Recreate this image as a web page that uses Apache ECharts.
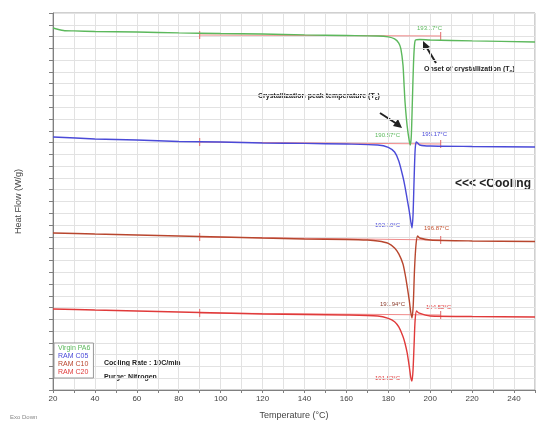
<!DOCTYPE html>
<html><head><meta charset="utf-8">
<script src="https://cdn.jsdelivr.net/npm/echarts@6/dist/echarts.min.js"></script>
<style>html,body{margin:0;padding:0;background:#fff;}#c{width:538px;height:429px;}</style>
</head><body><div id="c"></div>
<script>
// Temperature (°C) / heat flow (arbitrary offset units, exo down)
const seriesNames = ['Virgin PA6', 'RAM C05', 'RAM C10', 'RAM C20'];
const seriesColors = ['#5cb85c', '#4a4ad8', '#b8462e', '#e03a3a'];

const virginT = [20,25,30,40,60,80,100,120,140,160,175,180,183,185,186,187,187.5,188,189,190,190.5,191,191.5,192,192.5,193,195,200,220,250];
const virginV = [30.73,30.52,30.48,30.43,30.39,30.31,30.26,30.22,30.14,30.09,30.05,29.97,29.80,29.45,28.95,27.60,26.00,24.40,22.40,21.15,20.80,21.65,24.62,27.59,29.29,29.71,29.75,29.71,29.63,29.54];

const c05T = [20,40,60,80,100,120,140,160,175,180,183,185,187,188,189,190,190.7,191.3,191.8,192.3,192.8,193.3,194,195,200,220,250];
const c05V = [21.48,21.31,21.22,21.09,21.05,20.97,20.93,20.88,20.80,20.60,20.20,19.44,18.08,17.23,16.21,15.19,14.34,13.75,14.86,17.83,20.37,21.05,20.97,20.80,20.71,20.67,20.63];

const c10T = [20,40,60,80,100,120,140,160,170,175,180,183,185,187,188,189,190,190.7,191.3,191.9,192.5,193.2,194,195,200,220,250];
const c10V = [13.33,13.24,13.16,13.07,12.99,12.90,12.82,12.78,12.73,12.65,12.45,12.05,11.55,10.70,9.85,8.80,7.60,6.62,6.11,7.22,10.19,12.31,13.07,12.90,12.73,12.65,12.61];

const c20T = [20,40,60,80,100,120,140,160,175,180,183,185,187,188,189,190,190.7,191.3,191.8,192.3,192.8,193.5,194.5,200,220,250];
const c20V = [6.88,6.79,6.71,6.62,6.54,6.45,6.41,6.37,6.28,6.08,5.80,5.35,4.55,3.95,3.15,2.00,1.10,0.76,1.70,3.82,5.94,6.71,6.54,6.28,6.24,6.20];

// integration baselines (start/end temperature and level)
const baseT = [90, 205];
const baseV = [[30.13, 30.05], [21.05, 20.88], [12.99, 12.73], [6.54, 6.37]];

// peak / onset temperature labels
const peakLabels = ['190.57°C', '192.10°C', '191.94°C', '191.52°C'];
const onsetLabels = ['193.17°C', '195.17°C', '196.87°C', '194.52°C'];

const xTicks = [20,40,60,80,100,120,140,160,180,200,220,240];

const zip = (a, b) => a.map((t, i) => [t, b[i]]);
const curves = [zip(virginT, virginV), zip(c05T, c05V), zip(c10T, c10V), zip(c20T, c20V)];

const chart = echarts.init(document.getElementById('c'), null, {renderer: 'canvas'});

const series = [];
curves.forEach((d, i) => {
  series.push({
    name: seriesNames[i], type: 'line', data: d, showSymbol: false, smooth: 0.25,
    lineStyle: {color: seriesColors[i], width: 1.4}, itemStyle: {color: seriesColors[i]}, z: 3
  });
});
baseV.forEach((bv, i) => {
  series.push({
    name: 'base' + i, type: 'line', data: zip(baseT, bv), symbol: 'rect', symbolSize: [1, 8], showSymbol: true,
    lineStyle: {color: '#f08a8a', width: 1}, itemStyle: {color: '#e06a6a'}, z: 2, silent: true
  });
});

const fs = 'Liberation Sans, Arial, sans-serif';
const rich = {a: {font: 'bold 7px ' + fs, fill: '#222', color: '#222'}, s: {font: 'bold 5px ' + fs, color: '#222', verticalAlign: 'bottom', padding: [4, 0, 0, 0]}};
chart.setOption({
  animation: false,
  backgroundColor: '#ffffff',
  grid: {left: 53, right: 1, top: 13, bottom: 39, show: true, borderColor: '#a0a0a0', borderWidth: 1},
  xAxis: {
    type: 'value', min: 20, max: 250, interval: 10,
    axisLine: {show: true, lineStyle: {color: '#808080'}},
    axisTick: {show: true, length: 3, lineStyle: {color: '#808080'}},
    axisLabel: {color: '#444', fontSize: 8, fontFamily: fs, margin: 5,
      formatter: v => xTicks.indexOf(v) >= 0 ? String(v) : ''},
    splitLine: {show: true, lineStyle: {color: '#e2e2e2', width: 1}},
    name: 'Temperature (°C)', nameLocation: 'middle', nameGap: 21,
    nameTextStyle: {color: '#444', fontSize: 9, fontFamily: fs}
  },
  yAxis: {
    type: 'value', min: 0, max: 32, interval: 1,
    axisLine: {show: true, lineStyle: {color: '#808080'}},
    axisTick: {show: true, length: 4, lineStyle: {color: '#808080'}},
    axisLabel: {show: false},
    splitLine: {show: true, lineStyle: {color: '#e2e2e2', width: 1}},
    name: 'Heat Flow (W/g)', nameLocation: 'middle', nameGap: 30,
    nameTextStyle: {color: '#444', fontSize: 9, fontFamily: fs}
  },
  legend: {
    data: seriesNames.map((n, i) => ({name: n, textStyle: {color: seriesColors[i]}})),
    orient: 'vertical', left: 54, top: 343, icon: 'none', itemWidth: 0, itemHeight: 0, itemGap: 1,
    padding: [2, 3], borderColor: '#999', borderWidth: 1, backgroundColor: '#fff',
    textStyle: {fontSize: 7, fontFamily: fs, padding: [0, 0, 0, -4]}, selectedMode: false
  },
  series: series,
  graphic: [
    {type: 'rect', left: 257, top: 92, shape: {width: 135, height: 10}, style: {fill: '#fff'}},
    {type: 'text', left: 258, top: 93, style: {text: '{a|Crystallization peak temperature (T}{s|c}{a|)}', rich: rich}},
    {type: 'line', shape: {x1: 380, y1: 113, x2: 397, y2: 124}, style: {stroke: '#222', lineWidth: 2}},
    {type: 'polygon', shape: {points: [[402, 128], [393, 126], [398, 119]]}, style: {fill: '#222'}},
    {type: 'rect', left: 423, top: 65, shape: {width: 94, height: 10}, style: {fill: '#fff'}},
    {type: 'text', left: 424, top: 66, style: {text: '{a|Onset of crystallization (T}{s|o}{a|)}', rich: rich}},
    {type: 'line', shape: {x1: 436, y1: 63, x2: 427, y2: 48}, style: {stroke: '#222', lineWidth: 2}},
    {type: 'polygon', shape: {points: [[423, 41], [423, 50], [430, 47]]}, style: {fill: '#222'}},
    {type: 'text', left: 455, top: 178, style: {text: '<<< <Cooling', font: 'bold 12px ' + fs, fill: '#222'}},
    {type: 'text', left: 104, top: 360, style: {text: 'Cooling Rate : 10C/min', font: 'bold 7px ' + fs, fill: '#222'}},
    {type: 'text', left: 104, top: 374, style: {text: 'Purge: Nitrogen', font: 'bold 7px ' + fs, fill: '#222'}},
    {type: 'text', left: 10, top: 414, style: {text: 'Exo Down', font: '6px ' + fs, fill: '#888'}},
    // peak labels
    {type: 'text', left: 375, top: 132, style: {text: peakLabels[0], font: '6px ' + fs, fill: seriesColors[0]}},
    {type: 'text', left: 375, top: 222, style: {text: peakLabels[1], font: '6px ' + fs, fill: seriesColors[1]}},
    {type: 'text', left: 380, top: 301, style: {text: peakLabels[2], font: '6px ' + fs, fill: '#8a3a2a'}},
    {type: 'text', left: 375, top: 375, style: {text: peakLabels[3], font: '6px ' + fs, fill: seriesColors[3]}},
    // onset labels
    {type: 'text', left: 417, top: 25, style: {text: onsetLabels[0], font: '6px ' + fs, fill: seriesColors[0]}},
    {type: 'text', left: 422, top: 131, style: {text: onsetLabels[1], font: '6px ' + fs, fill: seriesColors[1]}},
    {type: 'text', left: 424, top: 225, style: {text: onsetLabels[2], font: '6px ' + fs, fill: '#c0502e'}},
    {type: 'text', left: 426, top: 304, style: {text: onsetLabels[3], font: '6px ' + fs, fill: seriesColors[3]}}
  ]
});
</script></body></html>
